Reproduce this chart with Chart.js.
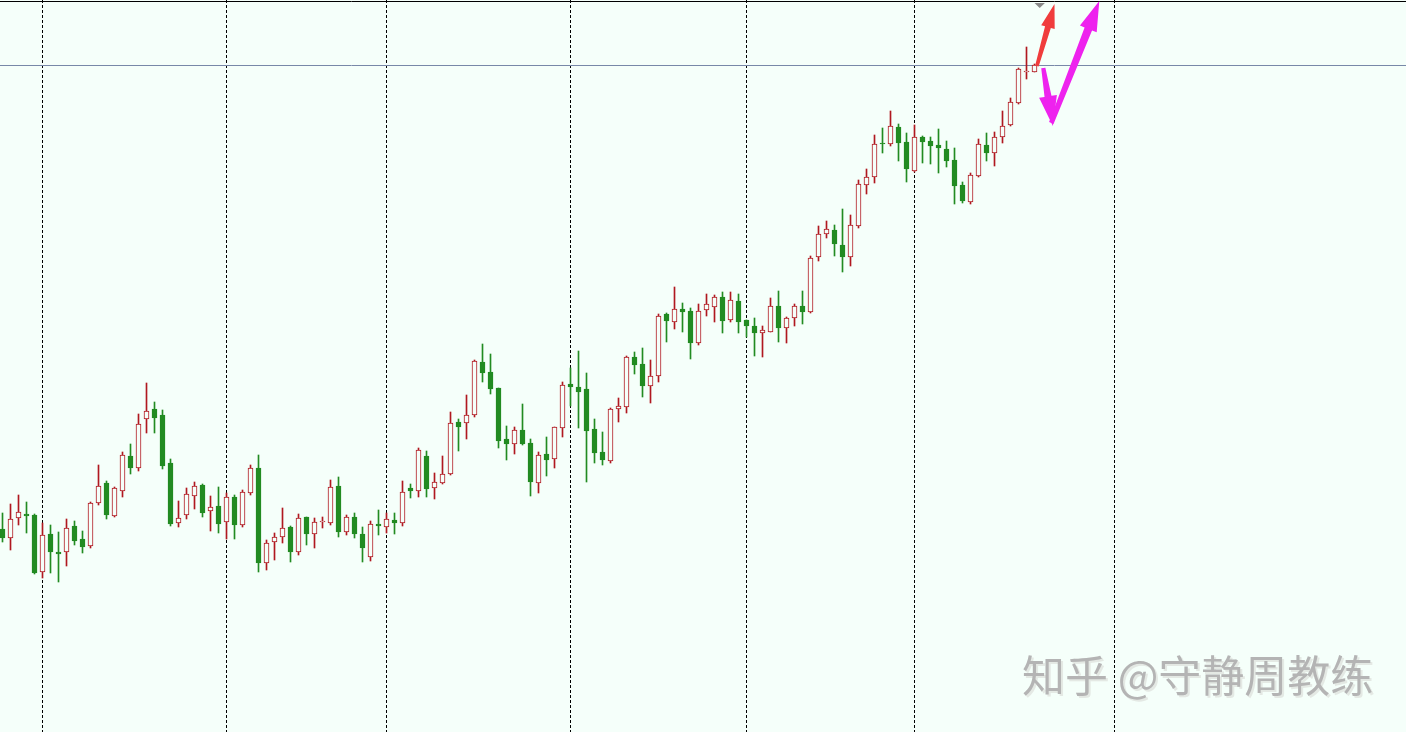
<!DOCTYPE html>
<html>
<head>
<meta charset="utf-8">
<script src="https://cdn.jsdelivr.net/npm/chart.js@4.4.1/dist/chart.umd.min.js"></script>
<style>
  html, body { margin: 0; padding: 0; background: #f5fffa; }
  #wrap { width: 1406px; height: 732px; position: relative; }
</style>
</head>
<body>
<div id="wrap"><canvas id="myChart"></canvas></div>
<script>
// OHLC, one entry per candle (oldest first)
const candleOpen = [
  471,462,482,486,485,428,466,448,448,474, 461,454,497,517,484,509,544,532,581,591,
  585,537,477,485,504,515,489,494,478,503, 475,507,532,437,458,463,473,448,483,466,
  478,477,514,468,483,466,443,476,473,480, 477,512,509,544,512,517,526,578,577,585,
  638,628,612,561,556,570,557,517,546,541, 572,616,613,611,571,548,539,591,593,643,
  636,614,624,686,678,691,689,657,690,693, 703,680,699,680,674,667,668,694,672,682,
  694,688,743,766,770,755,743,774,815,823, 857,856,873,858,829,863,859,855,851,840,
  815,798,824,855,847,863,875,897,928,928
];
const candleHigh = [
  487,496,505,498,486,477,475,468,481,479, 469,498,535,519,513,548,556,586,617,598,
  590,541,499,512,518,516,504,513,507,505, 510,535,545,460,467,492,474,486,483,482,
  483,520,523,485,487,473,479,490,487,487, 519,516,552,549,527,544,588,581,605,640,
  656,646,612,574,573,596,561,548,563,573, 618,632,649,627,581,568,592,602,644,648,
  652,640,686,687,713,697,692,696,706,705, 708,708,706,680,682,674,702,709,683,696,
  709,744,774,779,775,791,785,820,831,865, 872,889,876,867,875,864,863,871,859,852,
  818,827,861,867,868,889,902,932,953,936
];
const candleLow = [
  458,450,475,467,426,422,427,418,434,455, 447,452,495,481,483,503,526,529,567,567,
  531,474,473,481,491,483,469,467,461,461, 473,505,428,430,440,457,438,445,455,452,
  472,475,463,465,462,438,439,465,467,466, 474,502,503,503,501,516,525,549,561,583,
  618,606,552,540,546,555,504,507,524,532, 563,594,572,518,537,535,537,578,587,626,
  603,597,618,658,671,668,641,655,684,678, 667,678,667,663,644,643,668,658,657,674,
  676,687,739,762,744,728,734,772,806,817, 847,854,839,818,828,837,836,827,833,796,
  797,796,823,839,834,857,874,896,921,928
];
const candleClose = [
  462,481,488,484,427,465,448,446,472,459, 453,497,514,485,512,545,532,576,589,582,
  534,476,482,506,514,487,493,476,503,475, 508,532,437,457,463,472,448,482,466,478,
  479,513,468,483,466,452,476,474,481,477, 508,509,550,511,518,526,577,573,585,639,
  627,611,559,556,570,556,518,545,540,573, 615,613,608,569,547,540,591,594,643,635,
  614,624,684,679,691,688,657,689,696,703, 679,700,678,674,667,670,694,672,682,694,
  688,742,766,771,756,743,775,816,823,856, 856,874,857,831,863,858,854,852,839,814,
  799,825,856,847,863,874,898,931,929,935
];
// vertical separators (candle index) and the current price line
const separatorTicks = [5, 28, 48, 71, 93, 114, 139];
const lastPrice = 935;

const BG = '#f5fffa';
const UP = '#b01820';
const DOWN = '#228b22';

const isUp = candleOpen.map((o, i) => candleClose[i] >= o);
const bodies = candleOpen.map((o, i) => ({ x: i, y: [o, candleClose[i]] }));
const wicks = candleOpen.map((o, i) => ({ x: i, y: [candleLow[i], candleHigh[i]] }));

function drawArrow(ctx, x1, y1, x2, y2, shaft, headW, headL, color) {
  const a = Math.atan2(y2 - y1, x2 - x1);
  const len = Math.hypot(x2 - x1, y2 - y1);
  ctx.save();
  ctx.translate(x1, y1);
  ctx.rotate(a);
  ctx.fillStyle = color;
  ctx.beginPath();
  ctx.moveTo(0, -shaft * 0.3);
  ctx.lineTo(len - headL, -shaft / 2);
  ctx.lineTo(len - headL, -headW / 2);
  ctx.lineTo(len, 0);
  ctx.lineTo(len - headL, headW / 2);
  ctx.lineTo(len - headL, shaft / 2);
  ctx.lineTo(0, shaft * 0.3);
  ctx.closePath();
  ctx.fill();
  ctx.restore();
}

const decor = {
  id: 'decor',
  beforeDatasetsDraw(chart) {
    const { ctx, chartArea: a, scales: { x, y } } = chart;
    ctx.save();
    ctx.strokeStyle = '#000';
    ctx.lineWidth = 1;
    ctx.beginPath();
    ctx.moveTo(a.left, 1.5); ctx.lineTo(a.right, 1.5);
    ctx.stroke();
    ctx.strokeStyle = '#7888a8';
    const py = Math.round(y.getPixelForValue(lastPrice)) + 0.5;
    ctx.beginPath();
    ctx.moveTo(a.left, py); ctx.lineTo(a.right, py);
    ctx.stroke();
    ctx.restore();
  },
  afterDatasetsDraw(chart) {
    const { ctx, scales: { x, y } } = chart;
    const X = v => x.getPixelForValue(v), Y = v => y.getPixelForValue(v);
    // small marker at the top
    ctx.save();
    ctx.fillStyle = '#8a8a8a';
    ctx.beginPath();
    ctx.moveTo(X(129.0), 3); ctx.lineTo(X(130.3), 3); ctx.lineTo(X(129.65), 8);
    ctx.closePath(); ctx.fill();
    ctx.restore();
    // red arrow
    drawArrow(ctx, X(129.3), Y(934), X(131.5), Y(996), 6, 14, 24, '#f03c3c');
    // magenta V
    drawArrow(ctx, X(130.1), Y(932), X(131.3), Y(874), 7, 18, 30, '#ee22ee');
    drawArrow(ctx, X(131.1), Y(877), X(137.1), Y(999), 8, 18, 30, '#ee22ee');
  },
  afterDraw(chart) {
    const ctx = chart.ctx;
    ctx.save();
    ctx.font = '43px "Noto Sans CJK SC"';
    ctx.textBaseline = 'alphabetic';
    ctx.fillStyle = '#e4e9e4';
    ctx.fillText('知乎 @守静周教练', 1024, 694);
    ctx.fillStyle = '#b4b4b4';
    ctx.fillText('知乎 @守静周教练', 1022, 692);
    ctx.restore();
  }
};

new Chart(document.getElementById('myChart'), {
  type: 'bar',
  data: {
    datasets: [{
      label: 'body',
      data: bodies,
      barThickness: 5,
      grouped: false,
      borderWidth: 1,
      borderSkipped: false,
      backgroundColor: isUp.map(u => u ? BG : DOWN),
      borderColor: isUp.map(u => u ? UP : DOWN)
    }, {
      label: 'wick',
      data: wicks,
      barThickness: 1,
      grouped: false,
      borderWidth: 0,
      backgroundColor: isUp.map(u => u ? UP : DOWN)
    }]
  },
  options: {
    responsive: true,
    maintainAspectRatio: false,
    animation: false,
    layout: { padding: 0 },
    plugins: { legend: { display: false }, tooltip: { enabled: false } },
    scales: {
      x: {
        type: 'linear',
        offset: false,
        min: -0.3125,
        max: 175.4375,
        afterBuildTicks: s => { s.ticks = separatorTicks.map(v => ({ value: v })); },
        ticks: { display: false },
        grid: { color: '#000', lineWidth: 1, drawTicks: false, offset: false },
        border: { display: false, dash: [3, 2] }
      },
      y: {
        display: false,
        min: 268,
        max: 1000
      }
    }
  },
  plugins: [decor]
});
</script>
</body>
</html>
